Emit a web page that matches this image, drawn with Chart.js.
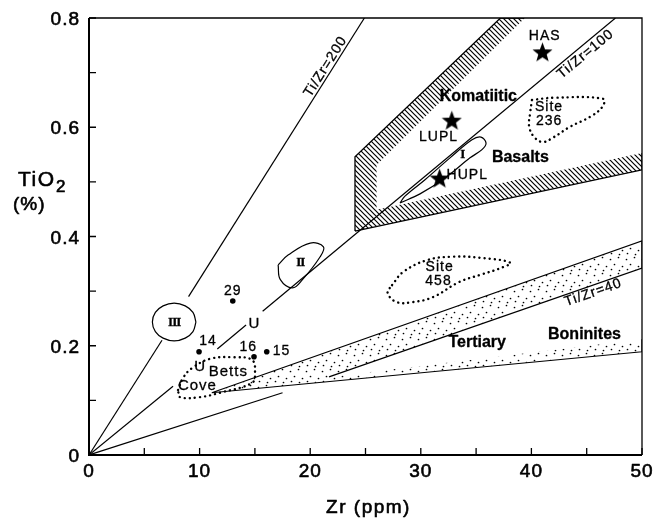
<!DOCTYPE html>
<html><head><meta charset="utf-8">
<script src="https://cdn.jsdelivr.net/npm/chart.js@4.4.1/dist/chart.umd.min.js"></script>
<style>html,body{margin:0;padding:0;background:#fff}#wrap{width:654px;height:520px}</style>
</head><body><div id="wrap"><canvas id="c" width="654" height="520"></canvas></div>
<script>
// ---------- data (Zr ppm, TiO2 %) ----------
const zrTickValues = [0,5,10,15,20,25,30,35,40,45,50];
const zrTickLabels = ['0','10','20','30','40','50'];
const tio2TickValues = [0,0.1,0.2,0.3,0.4,0.5,0.6,0.7,0.8];
const tio2TickLabels = ['0','0.2','0.4','0.6','0.8'];

const ratio200Low  = [[0,0],[6.6,0.21]];
const ratio200High = [[9.0,0.29],[24.9,0.8]];
const ratio100A = [[0,0],[7.6,0.126]];
const ratio100B = [[11.6,0.194],[14.2,0.238]];
const ratio100C = [[15.7,0.263],[47.6,0.8]];
const ratio40Low  = [[0,0],[17.5,0.114]];
const ratio40High = [[21.7,0.143],[50,0.342]];

const komatiiticOuter = [[24.05,0.410],[24.05,0.546],[37.2,0.8],[50,0.8],[50,0.522],[24.05,0.410]];
const komatiiticInner = [[26.0,0.449],[26.0,0.531],[39.4,0.8],[50,0.8],[50,0.553],[26.0,0.449]];

const boniniteWedge = [[11.1,0.114],[50,0.392],[50,0.189],[11.1,0.114]];
const boniniteClear = [[21.7,0.143],[50,0.342],[50,0.212],[21.7,0.143]];

const fieldI   = [[28.12,0.4615],[29.93,0.478],[32.19,0.507],[34.45,0.544],[35.53,0.559],[35.9,0.571],[35.44,0.582],[34.63,0.577],[32.64,0.544],[30.38,0.504],[28.57,0.474],[28.12,0.4615]];
const fieldII  = [[17.1,0.348],[18.0,0.366],[20.0,0.388],[21.2,0.381],[20.9,0.363],[19.3,0.321],[18.4,0.306],[17.3,0.321],[17.1,0.348]];
const fieldIII = [[9.67,0.2435],[9.4,0.261],[8.7,0.273],[7.7,0.278],[6.7,0.273],[6.0,0.261],[5.73,0.2435],[6.0,0.226],[6.7,0.214],[7.7,0.209],[8.7,0.214],[9.4,0.226],[9.67,0.2435]];

const bettsCove = [[8.05,0.119],[8.5,0.141],[9.31,0.159],[10.94,0.176],[13.02,0.179],[14.74,0.174],[15.01,0.150],[14.74,0.132],[11.84,0.114],[10.04,0.106],[8.23,0.106],[8.05,0.119]];
const site458 = [[27.4,0.311],[28.4,0.335],[30.6,0.357],[32.9,0.363],[35.4,0.361],[38.1,0.352],[37.2,0.342],[35.4,0.330],[33.5,0.317],[31.1,0.289],[29.3,0.280],[27.8,0.280],[27.0,0.297],[27.4,0.311]];
const site236 = [[40.05,0.650],[42.0,0.654],[46.5,0.652],[46.4,0.637],[45.3,0.619],[43.5,0.601],[41.95,0.581],[41.05,0.573],[40.3,0.581],[39.8,0.601],[39.9,0.628],[40.05,0.650]];

const sampleNames = ['29','14','16','15'];
const sampleZr    = [13.0, 9.95, 14.92, 16.07];
const sampleTiO2  = [0.282, 0.189, 0.180, 0.189];

const starNames = ['LUPL','HUPL','HAS'];
const starZr    = [32.8, 31.7, 41.0];
const starTiO2  = [0.613, 0.507, 0.738];

// ---------- text annotations (placement/style kept separate) ----------
const SANS = '"Liberation Sans", Arial, sans-serif';
const SERIF = '"Liberation Serif", serif';
const notes = [
  {t:'Ti/Zr=200', x:21.4, y:0.711, rot:-57.8, f:'14px '+SANS, ls:1},
  {t:'Ti/Zr=100', x:44.9, y:0.734, rot:-39.7, f:'14px '+SANS, ls:1},
  {t:'Ti/Zr=40',  x:45.6, y:0.297, rot:-19.4, f:'14px '+SANS, ls:1},
  {t:'Komatiitic', x:35.2, y:0.656, f:'bold 16px '+SANS, ls:0},
  {t:'Basalts',  x:39.0, y:0.544, f:'bold 16px '+SANS, ls:0},
  {t:'Tertiary', x:35.1, y:0.205, f:'bold 16px '+SANS, ls:0},
  {t:'Boninites',x:44.8, y:0.220, f:'bold 16px '+SANS, ls:0},
  {t:'Site', x:41.6, y:0.636, f:'14px '+SANS, ls:1},
  {t:'236',  x:41.6, y:0.612, f:'14px '+SANS, ls:1},
  {t:'Site', x:31.7, y:0.344, f:'14px '+SANS, ls:1},
  {t:'458',  x:31.6, y:0.319, f:'14px '+SANS, ls:1},
  {t:'LUPL', x:31.6, y:0.582, f:'14px '+SANS, ls:1},
  {t:'HUPL', x:34.2, y:0.513, f:'14px '+SANS, ls:1},
  {t:'HAS',  x:41.2, y:0.766, f:'14px '+SANS, ls:1},
  {t:'I',   x:33.8, y:0.549, f:'bold 13px '+SERIF, ls:0},
  {t:'II',  x:19.1, y:0.353, f:'bold 13px '+SERIF, ls:-1},
  {t:'III', x:7.7,  y:0.242, f:'bold 13px '+SERIF, ls:-1},
  {t:'29', x:13.0, y:0.300, f:'14px '+SANS, ls:1},
  {t:'14', x:10.76,y:0.209, f:'14px '+SANS, ls:1},
  {t:'16', x:14.4, y:0.198, f:'14px '+SANS, ls:1},
  {t:'15', x:17.4, y:0.190, f:'14px '+SANS, ls:1},
  {t:'U', x:14.9, y:0.240, f:'15px '+SANS, ls:0},
  {t:'U', x:10.0, y:0.161, f:'15px '+SANS, ls:0},
  {t:'Betts', x:12.6, y:0.152, f:'15px '+SANS, ls:1},
  {t:'Cove',  x:9.8,  y:0.126, f:'15px '+SANS, ls:1}
];

// ---------- patterns & symbols ----------
const canvas = document.getElementById('c');
const ctx0 = canvas.getContext('2d');
function hatchPattern(){
  const s=5, c=document.createElement('canvas'); c.width=c.height=s;
  const g=c.getContext('2d'); g.fillStyle='#fff'; g.fillRect(0,0,s,s);
  g.strokeStyle='#000'; g.lineWidth=1.2; g.beginPath();
  g.moveTo(-1,-1); g.lineTo(s+1,s+1);
  g.moveTo(s-1,-1); g.lineTo(s+1,1);
  g.moveTo(-1,s-1); g.lineTo(1,s+1);
  g.stroke();
  return ctx0.createPattern(c,'repeat');
}
function stipplePattern(){
  const s=16, c=document.createElement('canvas'); c.width=c.height=s;
  const g=c.getContext('2d'); g.fillStyle='#fff'; g.fillRect(0,0,s,s);
  g.fillStyle='#000';
  [[2,3],[10,1],[6,8],[14,10],[3,13],[11,14]].forEach(([a,b])=>{g.beginPath();g.arc(a+0.5,b+0.5,0.85,0,Math.PI*2);g.fill();});
  return ctx0.createPattern(c,'repeat');
}
function starImage(size){
  const c=document.createElement('canvas'); c.width=c.height=size;
  const g=c.getContext('2d'); g.fillStyle='#000'; g.beginPath();
  for(let i=0;i<10;i++){const r=i%2?size*0.21:size*0.5;const a=-Math.PI/2+i*Math.PI/5;g.lineTo(size/2+r*Math.cos(a),size/2+size*0.05+r*Math.sin(a));}
  g.closePath(); g.fill(); return c;
}

const pts = a => a.map(([x,y])=>({x,y}));
function lineDS(arr, extra){
  return Object.assign({data:pts(arr), borderColor:'#000', borderWidth:1.2, pointRadius:0, fill:false, tension:0, order:5}, extra||{});
}
const dotted = {borderDash:[0.1,5.0], borderCapStyle:'round', borderWidth:2.4, tension:0.4};

const datasets = [
  lineDS(sampleZr.map((z,i)=>[z,sampleTiO2[i]]), {showLine:false, pointRadius:2.8, pointBackgroundColor:'#000', pointBorderWidth:0, order:1}),
  lineDS(starZr.map((z,i)=>[z,starTiO2[i]]), {showLine:false, pointRadius:10, pointStyle:starImage(21), order:1}),
  lineDS(ratio200Low), lineDS(ratio200High),
  lineDS(ratio100A), lineDS(ratio100B), lineDS(ratio100C),
  lineDS(ratio40Low), lineDS(ratio40High),
  lineDS(fieldI,   {tension:0.35}),
  lineDS(fieldII,  {tension:0.4}),
  lineDS(fieldIII, {tension:0.4}),
  lineDS(bettsCove, dotted),
  lineDS(site458, dotted),
  lineDS(site236, dotted),
  lineDS(komatiiticInner, {fill:'shape', backgroundColor:'#fff', borderColor:'rgba(0,0,0,0)', order:19}),
  lineDS(komatiiticOuter, {fill:'shape', backgroundColor:hatchPattern(), borderWidth:1.3, order:20}),
  lineDS(boniniteClear, {fill:'shape', backgroundColor:'#fff', borderColor:'rgba(0,0,0,0)', order:19}),
  lineDS(boniniteWedge, {fill:'shape', backgroundColor:stipplePattern(), borderWidth:1.2, order:20})
];

function drawText(ctx, t, x, y, font, ls, align, rot, thick){
  ctx.save();
  ctx.translate(x,y); if(rot) ctx.rotate(rot*Math.PI/180);
  ctx.font=font; ctx.fillStyle='#000'; ctx.strokeStyle='#000'; ctx.textAlign=align||'center'; ctx.textBaseline='middle';
  try{ctx.letterSpacing=(ls||0)+'px';}catch(e){}
  ctx.fillText(t,0,0);
  if(thick){ctx.lineWidth=thick; ctx.lineJoin='round'; ctx.strokeText(t,0,0);}
  ctx.restore();
}

const decor = {
  id:'decor',
  afterDatasetsDraw(chart){
    const {ctx, chartArea:a, scales:{x,y}} = chart;
    ctx.save();
    ctx.strokeStyle='#000'; ctx.lineCap='butt';
    // frame
    ctx.lineWidth=2; ctx.beginPath(); ctx.moveTo(a.left,a.top); ctx.lineTo(a.left,a.bottom); ctx.lineTo(a.right,a.bottom); ctx.stroke();
    ctx.lineWidth=1.3; ctx.beginPath(); ctx.moveTo(a.left,a.top); ctx.lineTo(a.right,a.top); ctx.lineTo(a.right,a.bottom); ctx.stroke();
    // inward ticks
    ctx.lineWidth=1.3; ctx.beginPath();
    zrTickValues.forEach(v=>{const px=x.getPixelForValue(v); ctx.moveTo(px,a.bottom); ctx.lineTo(px,a.bottom-7);});
    tio2TickValues.forEach(v=>{const py=y.getPixelForValue(v); ctx.moveTo(a.left,py); ctx.lineTo(a.left+7,py);});
    ctx.stroke();
    // tick labels
    const tf='19px '+SANS;
    zrTickLabels.forEach((l,i)=>drawText(ctx,l,x.getPixelForValue(i*10),a.bottom+17,tf,1,'center',0,0.6));
    tio2TickLabels.forEach((l,i)=>drawText(ctx,l,a.left-9,y.getPixelForValue(i*0.2)+2,tf,1,'right',0,0.6));
    // axis titles
    drawText(ctx,'Zr (ppm)',(a.left+a.right)/2+3,a.bottom+53,'19px '+SANS,1.5,'center',0,0.6);
    drawText(ctx,'TiO',18,180,'21px '+SANS,1.5,'left',0,0.6);
    drawText(ctx,'2',56,187,'17px '+SANS,0,'left',0,0.6);
    drawText(ctx,'(%)',13,205,'19px '+SANS,1,'left',0,0.6);
    // annotations
    notes.forEach(n=>drawText(ctx,n.t,x.getPixelForValue(n.x),y.getPixelForValue(n.y),n.f,n.ls,'center',n.rot||0,0.3));
    ctx.restore();
  }
};

new Chart(canvas, {
  type:'line',
  data:{datasets},
  options:{
    responsive:false, animation:false, events:[],
    layout:{padding:{top:18,right:12,left:0,bottom:0}},
    plugins:{legend:{display:false}, tooltip:{enabled:false}},
    scales:{
      x:{type:'linear', min:0, max:50, ticks:{display:false}, grid:{display:false, drawTicks:false}, border:{display:false},
         afterFit:s=>{s.height=65;}},
      y:{type:'linear', min:0, max:0.8, ticks:{display:false}, grid:{display:false, drawTicks:false}, border:{display:false},
         afterFit:s=>{s.width=89;}}
    }
  },
  plugins:[decor]
});
</script>
</body></html>
